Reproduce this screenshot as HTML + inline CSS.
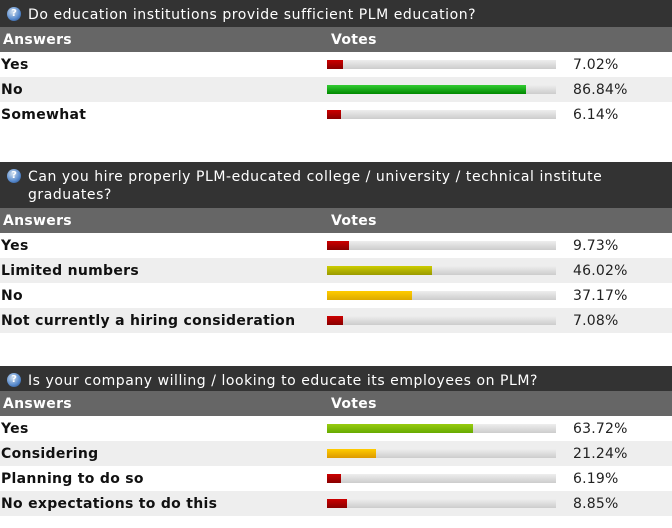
<!DOCTYPE html>
<html><head><meta charset="utf-8"><style>
body{margin:0;width:672px;height:528px;background:#fff;position:relative;overflow:hidden;font-family:"DejaVu Sans","Liberation Sans",sans-serif}
.abs{position:absolute}
.title{left:0;width:672px;background:#333;color:#fff;font-size:14px;letter-spacing:0.55px;line-height:18px;box-sizing:border-box;padding:6px 40px 0 28px}
.icon{position:absolute;left:7px;top:7px;width:14px;height:14px;border-radius:50%;background:radial-gradient(circle at 40% 35%,#cde 0,#58c 60%,#247 100%);color:#fff;font-size:10px;line-height:14px;text-align:center;font-weight:bold;letter-spacing:0}
.head{left:0;width:672px;height:25px;background:#666;color:#fff;font-weight:bold;font-size:14px;letter-spacing:0.3px;line-height:27px}
.row{left:0;width:672px;height:25px;font-weight:bold;font-size:14px;letter-spacing:0.3px;line-height:27px;color:#111}
.track{position:absolute;left:327px;top:8px;width:229px;height:9px;background:linear-gradient(#eee,#ccc)}
.bar{position:absolute;left:0;top:0;height:9px}
.pct{position:absolute;left:573px;top:0;font-weight:normal;color:#222;letter-spacing:0.2px}
</style></head><body>
<script>
const q1Labels=["Yes","No","Somewhat"];
const q1Values=[7.02,86.84,6.14];
const q2Labels=["Yes","Limited numbers","No","Not currently a hiring consideration"];
const q2Values=[9.73,46.02,37.17,7.08];
const q3Labels=["Yes","Considering","Planning to do so","No expectations to do this"];
const q3Values=[63.72,21.24,6.19,8.85];
const titles=["Do education institutions provide sufficient PLM education?","Can you hire properly PLM-educated college / university / technical institute graduates?","Is your company willing / looking to educate its employees on PLM?"];
const polls=[[q1Labels,q1Values],[q2Labels,q2Values],[q3Labels,q3Values]];
const tops=[0,162,366],titleH=[27,46,25];
function color(v){if(v<15)return"linear-gradient(#c00,#800)";if(v<30)return"linear-gradient(#fc0,#d90)";if(v<42)return"linear-gradient(#fc0,#da0)";if(v<55)return"linear-gradient(#cc0,#990)";if(v<75)return"linear-gradient(#9c1,#6a0)";return"linear-gradient(#3c3,#080)";}
polls.forEach((p,i)=>{
 let y=tops[i];
 const t=document.createElement('div');t.className='abs title';t.style.top=y+'px';t.style.height=titleH[i]+'px';
 
 
 t.innerHTML='<span class="icon">?</span>'+titles[i];
 document.body.appendChild(t);y+=titleH[i];
 const h=document.createElement('div');h.className='abs head';h.style.top=y+'px';
 
 
 h.innerHTML='<span style="position:absolute;left:3px">Answers</span><span style="position:absolute;left:331px">Votes</span>';
 document.body.appendChild(h);y+=25;
 p[0].forEach((lab,j)=>{
  const r=document.createElement('div');r.className='abs row';r.style.top=y+'px';r.style.background=j%2?'#eee':'#fff';
  
  
  const v=p[1][j];
  r.innerHTML='<span style="position:absolute;left:1px">'+lab+'</span><div class="track"><div class="bar" style="width:'+(v/100*229)+'px;background:'+color(v)+'"></div></div><span class="pct">'+v.toFixed(2)+'%</span>';
  document.body.appendChild(r);y+=25;
 });
});
</script>
</body></html>
